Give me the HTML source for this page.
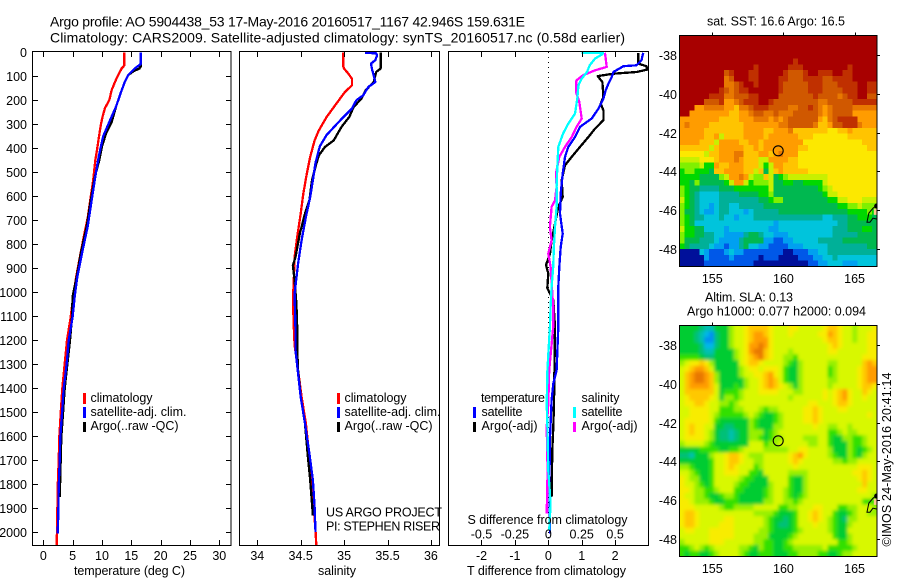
<!DOCTYPE html>
<html>
<head>
<meta charset="utf-8">
<title>Argo profile</title>
<style>
html,body{margin:0;padding:0;background:#fff;}
svg{display:block;}
text{font-family:"Liberation Sans",sans-serif;fill:#000;font-size:12.5px;}
.title{font-size:14px;}
</style>
</head>
<body>
<svg id="chart" width="900" height="580" viewBox="0 0 900 580" xmlns="http://www.w3.org/2000/svg">
<defs>
<clipPath id="clip-sst"><rect x="679.5" y="35.5" width="197.5" height="231"/></clipPath>
<clipPath id="clip-sla"><rect x="679.5" y="325.5" width="197.5" height="231"/></clipPath>
<clipPath id="clip-temp"><rect x="33" y="52" width="198" height="494"/></clipPath>
<clipPath id="clip-sal"><rect x="240" y="52" width="200" height="494"/></clipPath>
<clipPath id="clip-diff"><rect x="449" y="52" width="200" height="494"/></clipPath>
<filter id="smooth" x="-5%" y="-5%" width="110%" height="110%"><feGaussianBlur stdDeviation="1.5"/></filter>
</defs>
<text class="title" x="50" y="26.5" textLength="475" lengthAdjust="spacing">Argo profile: AO 5904438_53 17-May-2016 20160517_1167 42.946S 159.631E</text>
<text class="title" x="50" y="42.5" textLength="575" lengthAdjust="spacing">Climatology: CARS2009. Satellite-adjusted climatology: synTS_20160517.nc (0.58d earlier)</text>

<g id="map-layer"></g>
<g id="line-layer"></g>
<g id="axis-layer"></g>

<rect x="32.5" y="51.5" width="198.5" height="494" fill="none" stroke="#000"/>
<rect x="239.5" y="51.5" width="200" height="494" fill="none" stroke="#000"/>
<rect x="448.5" y="51.5" width="200" height="494" fill="none" stroke="#000"/>
<rect x="679.5" y="35.5" width="197.5" height="231" fill="none" stroke="#000"/>
<rect x="679.5" y="325.5" width="197.5" height="231" fill="none" stroke="#000"/>

<text x="74" y="575" textLength="111" lengthAdjust="spacing">temperature (deg C)</text>
<text x="318" y="575" textLength="38" lengthAdjust="spacing">salinity</text>
<text x="467" y="575" textLength="159" lengthAdjust="spacing">T difference from climatology</text>
<text x="467.5" y="524" textLength="160" lengthAdjust="spacing">S difference from climatology</text>

<g>
<rect x="83" y="393" width="3" height="11" fill="#f00"/>
<text x="90.5" y="402" textLength="62" lengthAdjust="spacing">climatology</text>
<rect x="83" y="407" width="3" height="11" fill="#00f"/>
<text x="90.5" y="416" textLength="96" lengthAdjust="spacing">satellite-adj. clim.</text>
<rect x="83" y="422" width="3" height="10" fill="#000"/>
<text x="90.5" y="430" textLength="88" lengthAdjust="spacing">Argo(..raw -QC)</text>
</g>
<g>
<rect x="337" y="393" width="3" height="11" fill="#f00"/>
<text x="344.5" y="402" textLength="62" lengthAdjust="spacing">climatology</text>
<rect x="337" y="407" width="3" height="11" fill="#00f"/>
<text x="344.5" y="416" textLength="96" lengthAdjust="spacing">satellite-adj. clim.</text>
<rect x="337" y="422" width="3" height="10" fill="#000"/>
<text x="344.5" y="430" textLength="88" lengthAdjust="spacing">Argo(..raw -QC)</text>
</g>
<text x="326" y="516.5" textLength="116" lengthAdjust="spacing">US ARGO PROJECT</text>
<text x="326" y="530.5" textLength="114" lengthAdjust="spacing">PI: STEPHEN RISER</text>

<g>
<text x="481" y="402" textLength="64" lengthAdjust="spacing">temperature</text>
<text x="581.5" y="402" textLength="38" lengthAdjust="spacing">salinity</text>
<rect x="473" y="407" width="3" height="11" fill="#00f"/>
<text x="481.5" y="416" textLength="41" lengthAdjust="spacing">satellite</text>
<rect x="473" y="422" width="3" height="10" fill="#000"/>
<text x="481.5" y="430" textLength="56" lengthAdjust="spacing">Argo(-adj)</text>
<rect x="573" y="407" width="3" height="11" fill="#0ff"/>
<text x="581.5" y="416" textLength="41" lengthAdjust="spacing">satellite</text>
<rect x="573" y="422" width="3" height="10" fill="#f0f"/>
<text x="581.5" y="430" textLength="56" lengthAdjust="spacing">Argo(-adj)</text>
</g>

<text x="707" y="25.5" textLength="138" lengthAdjust="spacing">sat. SST: 16.6 Argo: 16.5</text>
<text x="705" y="301.5" textLength="88" lengthAdjust="spacing">Altim. SLA: 0.13</text>
<text x="687" y="315.5" textLength="179" lengthAdjust="spacing">Argo h1000: 0.077 h2000: 0.094</text>
<text transform="translate(891,546.5) rotate(-90)" textLength="174" lengthAdjust="spacing">©IMOS 24-May-2016 20:41:14</text>
</svg>

<script>
// ---- temperature panel data (deg C vs depth m) ----
var tempClimDepth = [0,55,67,108,157,199,233,268,303,351,407,449,532,601,685,768,851,935,1018,1103,1200,1297,1401,1505,1603,1700,1811,1922,2055];
var tempClimVal = [13.8,13.8,13.36,12.5,11.65,11.25,10.5,10.1,9.8,9.5,9.15,8.87,8.5,8.1,7.6,6.9,6.25,5.6,5.1,4.67,4.04,3.64,3.24,2.96,2.73,2.62,2.45,2.39,2.28];
var tempSatDepth = [0,49,67,94,122,169,226,290,351,435,518,615,726,837,935,1018,1103,1200,1297,1401,1505,1603,1700,1811,1922,2005];
var tempSatVal = [16.6,16.6,15.6,14.5,13.9,13.2,12.4,11.25,10.2,9.44,8.87,8.25,7.57,6.6,5.8,5.35,5.0,4.33,3.98,3.47,3.19,2.9,2.79,2.62,2.56,2.45];
var tempArgoDepth = [0,60,67,80,94,122,169,226,290,337,392,449,518,615,726,837,935,1018,1103,1200,1297,1401,1505,1603,1700,1811,1853];
var tempArgoVal = [16.6,16.6,16.4,15.3,14.5,13.9,13.2,12.4,11.65,10.7,10.0,9.55,8.8,8.1,7.4,6.4,5.7,5.0,4.9,4.55,4.1,3.64,3.36,3.07,2.96,2.85,2.85];
// ---- salinity panel data ----
var salClimDepth = [0,58,68,89,110,138,165,214,269,325,367,436,506,589,672,769,853,950,1033,1144,1220,1297,1436,1547,1686,1797,1894,1991,2054];
var salClimVal = [34.99,34.99,35.0,35.05,35.09,35.09,35.01,34.91,34.8,34.71,34.66,34.61,34.57,34.53,34.5,34.46,34.43,34.42,34.41,34.42,34.43,34.46,34.51,34.56,34.6,34.63,34.65,34.67,34.68];
var salSatDepth = [2,4,12,33,47,68,96,124,144,179,200,235,263,297,344,392,461,533,603,686,783,880,1005,1158,1241,1339,1436,1547,1672,1783,1894,1998];
var salSatVal = [35.24,35.37,35.38,35.36,35.31,35.32,35.34,35.36,35.28,35.22,35.14,35.09,35.01,34.92,34.8,34.72,34.67,34.64,34.61,34.56,34.51,34.47,34.43,34.44,34.44,34.47,34.5,34.55,34.6,34.64,34.66,34.67];
var salArgoDepth = [0,68,82,124,158,193,228,269,311,367,394,429,464,533,617,672,756,853,888,950,1047,1144,1241,1325,1436,1547,1672,1783,1929];
var salArgoVal = [35.42,35.42,35.37,35.34,35.25,35.2,35.11,35.06,34.97,34.88,34.78,34.71,34.68,34.63,34.6,34.55,34.49,34.44,34.41,34.43,34.45,34.46,34.46,34.47,34.5,34.55,34.58,34.61,34.64];
// ---- difference panel data ----
var dtSatDepth = [2,33,54,58,82,103,131,158,193,235,276,311,353,394,436,506,589,672,756,811,894,978,1144,1325,1380,1450,1603,1811,2005];
var dtSatVal = [2.84,2.79,2.64,2.25,1.95,1.9,1.8,1.72,1.65,1.5,1.3,0.95,0.8,0.6,0.5,0.43,0.37,0.35,0.43,0.37,0.33,0.3,0.3,0.25,0.15,0.1,0.05,0.03,0.05];
var dtArgoDepth = [2,47,58,72,82,89,99,124,186,214,242,283,318,353,394,436,471,533,603,644,714,783,839,886,922,983,1033,1144,1464,1561,1658,1853];
var dtArgoVal = [2.69,2.69,2.94,2.96,2.64,1.95,1.48,1.62,1.65,1.57,1.65,1.65,1.4,1.2,0.95,0.7,0.5,0.4,0.43,0.3,0.2,0.1,0.05,-0.07,0,-0.03,0.15,0.2,0.17,0.15,0.12,0.1];
var dsSatDepth = [2,3,8,26,54,82,110,138,193,256,297,339,394,478,561,644,728,811,894,978,1061,1144,1325,1464,1561,1742,1880,1992];
var dsSatVal = [0.25,0.41,0.405,0.35,0.31,0.29,0.25,0.225,0.217,0.2,0.15,0.11,0.075,0.067,0.062,0.062,0.05,0.042,0.037,0.025,0.017,0.012,-0.007,-0.012,-0.007,0,0.017,0.007];
var dsArgoDepth = [2,26,61,75,96,117,165,207,276,311,353,394,436,506,561,617,644,728,783,839,894,1061,1144,1325,1464,1561,1742,1922];
var dsArgoVal = [0.424,0.43,0.437,0.35,0.26,0.21,0.207,0.232,0.25,0.212,0.175,0.125,0.082,0.057,0.062,0.05,0.025,0.012,0.025,0,0.017,0.037,0.037,0.007,0,-0.012,-0.005,-0.012];
// ---- ticks ----
var depthTicks = [0,100,200,300,400,500,600,700,800,900,1000,1100,1200,1300,1400,1500,1600,1700,1800,1900,2000];
var tempTicks = [0,5,10,15,20,25,30];
var salTicks = [34,34.5,35,35.5,36];
var dtTicks = [-2,-1,0,1,2];
var dsTicks = [-0.5,-0.25,0,0.25,0.5];
var lonTicks = [155,160,165];
var latTicks = [-38,-40,-42,-44,-46,-48];
// ---- map data ----
var floatLon = [159.631];
var floatLat = [-42.946];
var coastLon = [166.57,166.29,166.0,165.87,166.08,166.29,166.57];
var coastLat = [-45.76,-45.92,-46.17,-46.64,-46.64,-46.43,-46.48];
var sstScale = ['#00109a','#0058e8','#00a0f0','#00c4dc','#00b098','#00b850','#00d800','#80f000','#c8f000','#fce800','#ffc400','#ff9c00','#e87800','#d05800','#c03000','#a80000'];
var slaScale = ['#00109a','#0090f0','#00b8e8','#00c0b0','#00c078','#00cc30','#30e000','#98f000','#d8f800','#f8ec00','#ffc800','#ff9c00','#e87800','#d05800','#c03000','#a80000'];
var sstGrid = [
"ffffffffff ffffffffff ffffffffff ffffffffff",
"ffffffffff ffffffffff ffffffffff ffffffffff",
"ffffffffff ffffffffff ffffffffff ffffffffff",
"ffffffffff ffffffffff ffffffffff ffffffffff",
"ffffffffff ffffffffff fffeffffff ffffffffff",
"ffffffffff fffffeffff ffeeefffff ffffefffff",
"fffffffffd efffeeffff fedddeffee effeefffff",
"fffffffffc dfffeeffff eedddeeeed deeeefffff",
"fffffffffc cdeffeffff edddddeeed ddeeeeffee",
"ffffffffed cdeeffffff edddddeeed dddeeeffee",
"ffffffeeec cdddeeffff dddddddedd ddcdeeffdd",
"fffffdddeb bcdeeeffed ddddddddcc dddddeeeee",
"fffbbccccb baccdeeedd ddccddedcb cddddccccc",
"ffbbbbbbbb aabbcddccd cccdddddcb cddddbbbbb",
"bbbbbbbbaa aabbbcccbc bcddddddba cdeeeebbbb",
"bcbbbbaaaa aaabbbbbbb ccdddddcaa bddeeecbbb",
"bbbbbaaaaa aaabbbbaab bbcaaaaaaa 99aabaaaaa",
"bbbbbaab8a aaabbbbabb bbbbaaa999 9999aaaaaa",
"bbbbaaa8bb bbaabbabbb bbbbb99999 9999999aaa",
"aaaaaa8abb bbbaababbb bbbbaa9999 99999999aa",
"999998aabb bccaaabbab cbbb999999 9999999999",
"8888999abb bcbaaa88bb bbaa999999 9999999999",
"7777866baa bbbaaa868b baaa999999 9999999999",
"6776665aab bbbaa8a58a baaaaa9999 9999999999",
"6666555578 bbcb877a85 6788888888 9999999999",
"6657555556 8bb8677785 5665566668 9999999999",
"7655444455 5666666685 5555555567 8999999999",
"7654333344 4455556675 5555555556 8899999999",
"8654333344 4444445567 7555555555 6688999888",
"7654332344 3344444555 5555555555 5566778777",
"7554322344 3332344444 5555555555 5555666676",
"7654433343 3233344444 4444444443 3444556665",
"7653333333 3333333332 3333333333 3344555555",
"8665533332 3333333322 3333333333 3444555665",
"7665544332 2224554332 2233333333 3444445555",
"7555444322 2245555221 1223333344 4445555555",
"6544443221 2245332211 1122233333 4444444455",
"0000321112 3221111111 1001112233 4444444444",
"0000021111 2111110111 0000111223 3433333333",
"0000011111 1111100000 0000001122 3332223333"
];
var slaGrid = [
"5555433555 7889aaaa98 8899888889 aa98878889",
"5554321455 7889abba98 8898888899 ba98878899",
"5554311455 7889abbb98 8888888889 aa98878899",
"5555422455 7889bbcb98 8888888888 9a98888899",
"5555433555 5789bcca98 8878888888 9988888899",
"6666544555 5789abca98 8776888888 8888888999",
"7899a97555 5589aa9888 8765788888 7788888aba",
"89abba8555 5578998999 8655788888 6788889abb",
"8abccba755 5578899ab9 8655788888 6788889abb",
"8abccba755 5557889aba 8655788888 7788889abb",
"8abbbba855 5657889aba 9875788888 7888889aa9",
"8aaaaaa856 6678889999 8887788889 89ab988a98",
"89aaaa9857 7678888888 8878888889 89ab988988",
"899aa98877 6788888888 8888889988 89aa988888",
"8899998866 6778887677 8888899a98 8899888888",
"8899998766 6667876556 7888899a98 8888888898",
"8999998655 5555765556 7888899a98 8888888888",
"89a9988554 4555765557 7888888988 7788788888",
"89a9987544 3455777567 8888888888 6678778888",
"8999987544 3455776567 7888877788 6557766788",
"7888876555 5555888677 8888887788 6555766788",
"5555666655 6678888777 7788998888 7555765678",
"4435557889 aa98777888 889ab98888 7655765788",
"5555556889 aa98877888 889a988888 8776778888",
"7765556889 a988867888 8889888888 8888889998",
"8876556889 9988665888 8877778888 8888899a98",
"9877556888 8876655588 8865578888 8888889a98",
"9887656888 8766555578 8865578888 8888888a88",
"9987766788 8665555678 8765578888 8888889988",
"9887765567 7655555678 8765678888 8888888887",
"9987776556 6655555778 8776788888 8888888666",
"9998888876 6777788888 6677888998 8866778887",
"9aa9888888 8888877776 5556889a98 8655678877",
"9aa9888889 9888888765 5456889a98 7654778888",
"9aa9888899 9888888765 4456888988 7655788888",
"8998889999 9888887765 5556788888 7655888888",
"8888889999 9888877755 5567888888 8655788888",
"7888889998 8888877665 5678888888 8866788888",
"6678767888 8877657665 5667777778 6666678888",
"6566556788 8876556665 5566777766 5567788888"
];

var SVGNS = 'http://www.w3.org/2000/svg';
function yD(d){return 52.3 + 0.24*d;}
function xT(v){return 43.3 + 5.867*v;}
function xS(v){return 257.3 + 86.8*(v-34);}
function xDT(v){return 548.3 + 33.4*v;}
function xDS(v){return 548.3 + 133.6*v;}
function xLon(v){return 712.3 + 14.23*(v-155);}
function yLat(v,top){return top + 19.33*(-38-v);}

var mapLayer = document.getElementById('map-layer');
var lineLayer = document.getElementById('line-layer');
var axisLayer = document.getElementById('axis-layer');

function make(tag,attrs,parent){
  var el = document.createElementNS(SVGNS,tag);
  for(var k in attrs){el.setAttribute(k,attrs[k]);}
  parent.appendChild(el);
  return el;
}

function drawGrid(grid,scale,parent,top,name,stretch){
  var x0 = 679.5, w = 197.5/40, h = 231/40;
  grid.forEach(function(row,r){
    var cells = row.replace(/ /g,'');
    for(var c=0;c<cells.length;c++){
      var cx = x0+c*w, cy = top+r*h, cw = w+0.6, ch = h+0.6;
      if(stretch){
        if(c===0){cx-=8;cw+=8;}
        if(c===cells.length-1){cw+=8;}
        if(r===0){cy-=8;ch+=8;}
        if(r===grid.length-1){ch+=8;}
      }
      var el = make('rect',{x:cx,y:cy,width:cw,height:ch,fill:scale[parseInt(cells[c],16)]},parent);
      
      
    }
  });
}

function drawMap(grid,scale,top,clipId,name,cellName,smooth){
  var g = make('g',{'clip-path':'url(#'+clipId+')'},mapLayer);
  
  
  var inner = make('g',smooth?{filter:'url(#smooth)'}:{'shape-rendering':'crispEdges'},g);
  drawGrid(grid,scale,inner,top,cellName,smooth);
  var pts = coastLon.map(function(v,i){return xLon(v)+','+yLat(coastLat[i],top+19.7);}).join(' ');
  var land = make('rect',{x:xLon(166.35),y:yLat(-45.95,top+19.7),width:4,height:6,fill:'#ffc890'},g);
  
  
  var coast = make('polyline',{points:pts,fill:'none',stroke:'#000','stroke-width':1},g);
  
  
  var blob = make('circle',{cx:xLon(166.55),cy:yLat(-45.8,top+19.7),r:2.5,fill:'#000'},g);
  
  
  var marker = make('circle',{cx:xLon(floatLon[0]),cy:yLat(floatLat[0],top+19.7),r:5,fill:'none',stroke:'#000','stroke-width':1.1},g);
  
  
}
drawMap(sstGrid,sstScale,35.5,'clip-sst','sst-map','sst-cell',false);
drawMap(slaGrid,slaScale,325.5,'clip-sla','sla-map','sla-cell',true);

function drawLine(xs,ds,xf,color,clipId,name,width){
  var pts = xs.map(function(v,i){return xf(v).toFixed(1)+','+yD(ds[i]).toFixed(1);}).join(' ');
  var el = make('polyline',{points:pts,fill:'none',stroke:color,'stroke-width':width||2.3,'clip-path':'url(#'+clipId+')','shape-rendering':'crispEdges','stroke-linejoin':'round'},lineLayer);
  
  
}
var zeroLine = make('line',{x1:548.5,y1:52,x2:548.5,y2:545,stroke:'#000','stroke-width':1,'stroke-dasharray':'1 4'},lineLayer);



drawLine(tempClimVal,tempClimDepth,xT,'#f00','clip-temp','temperature-climatology-line');
drawLine(tempArgoVal,tempArgoDepth,xT,'#000','clip-temp','temperature-argo-line');
drawLine(tempSatVal,tempSatDepth,xT,'#00f','clip-temp','temperature-satellite-line');
drawLine(salClimVal,salClimDepth,xS,'#f00','clip-sal','salinity-climatology-line');
drawLine(salArgoVal,salArgoDepth,xS,'#000','clip-sal','salinity-argo-line');
drawLine(salSatVal,salSatDepth,xS,'#00f','clip-sal','salinity-satellite-line');
drawLine(dtArgoVal,dtArgoDepth,xDT,'#000','clip-diff','t-difference-argo-line');
drawLine(dtSatVal,dtSatDepth,xDT,'#00f','clip-diff','t-difference-satellite-line');
drawLine(dsArgoVal,dsArgoDepth,xDS,'#f0f','clip-diff','s-difference-argo-line');
drawLine(dsSatVal,dsSatDepth,xDS,'#0ff','clip-diff','s-difference-satellite-line');

function tick(x1,y1,x2,y2){
  var el = make('line',{x1:x1,y1:y1,x2:x2,y2:y2,stroke:'#000','stroke-width':1,'shape-rendering':'crispEdges'},axisLayer);
  
  
}
function label(x,y,txt,anchor,name){
  var el = make('text',{x:x,y:y,'text-anchor':anchor||'middle'},axisLayer);
  el.textContent = txt;
  
  
}
depthTicks.forEach(function(d){
  var y = Math.round(yD(d))+0.5;
  if(d>0){tick(33,y,38,y);tick(226,y,231,y);}
  label(27,y+4.5,String(d),'end','depth-tick-label');
});
tempTicks.forEach(function(v){
  var x = Math.round(xT(v))+0.5;
  tick(x,52,x,57);
  tick(x,540,x,545);
  label(xT(v),560,String(v),'middle','temperature-tick-label');
});
salTicks.forEach(function(v){
  var x = Math.round(xS(v))+0.5;
  tick(x,52,x,57);
  tick(x,540,x,545);
  label(xS(v),560,String(v),'middle','salinity-tick-label');
});
dtTicks.forEach(function(v){
  var x = Math.round(xDT(v))+0.5;
  if(v!==0){tick(x,52,x,57);}
  tick(x,540,x,545);
  label(xDT(v),560,String(v),'middle','t-difference-tick-label');
});
dsTicks.forEach(function(v){
  label(xDS(v),538.5,String(v),'middle','s-difference-tick-label');
});
[35.5,325.5].forEach(function(top){
  lonTicks.forEach(function(v){
    var x = Math.round(xLon(v))+0.5;
    tick(x,top-3,x,top);
    label(xLon(v),top+247.5,String(v),'middle','longitude-tick-label');
  });
  latTicks.forEach(function(v){
    var y = Math.round(yLat(v,top+19.7))+0.5;
    tick(877,y,880,y);
    label(677,y+4.5,String(v),'end','latitude-tick-label');
  });
});
</script>
</body>
</html>
